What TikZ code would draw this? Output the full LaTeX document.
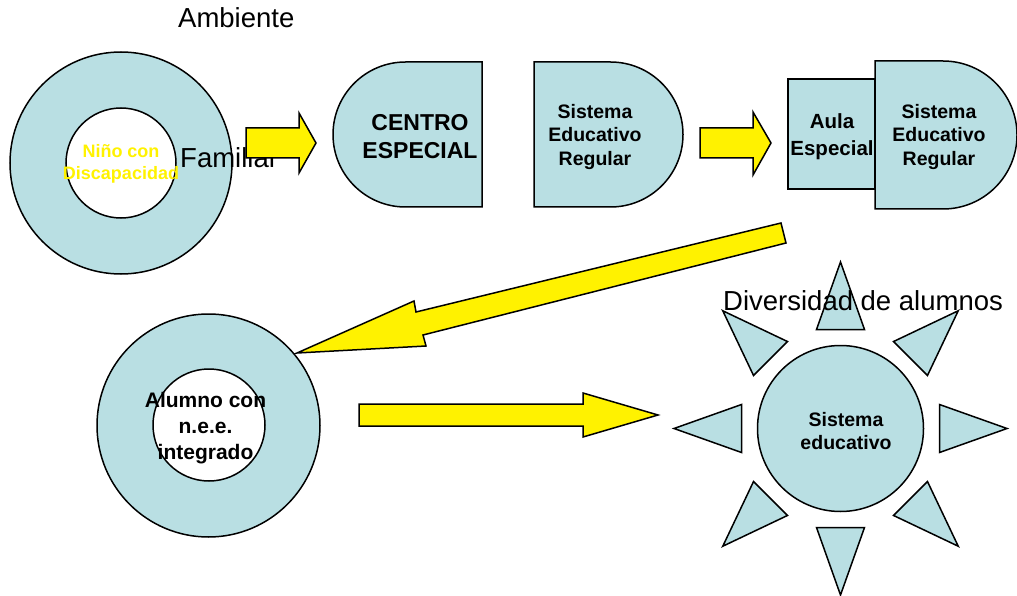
\documentclass[tikz,border=0pt]{standalone}
\usepackage{fontspec}
\setmainfont{Liberation Sans}
\definecolor{aqua}{RGB}{185,223,227}
\tikzset{>=latex}
\tikzset{
  shapefill/.style={fill=aqua, draw=black, line width=1.5pt},
  ringhole/.style={fill=white, draw=black, line width=1.5pt},
  blockarrow/.style={fill=yellow, draw=black, line width=1.5pt, line join=miter},
  boldtext/.style={font=\bfseries\fontsize{19.5}{23.5}\selectfont, align=center, inner sep=0pt},
  plaintext/.style={font=\fontsize{27.5}{31}\selectfont, inner sep=0pt, anchor=base west},
}

\begin{document}
\begin{tikzpicture}[x=1pt, y=-1pt]
   \useasboundingbox (0,0) rectangle (1017,596);

   % Ambiente familiar
   \node[plaintext] (ambiente) at (178,28) {Ambiente};
   \node[circle, shapefill, minimum size=222pt, inner sep=0pt] (familia) at (121,163) {};
   \node[circle, ringhole, minimum size=110pt, inner sep=0pt] (hueco) at (121,163) {};
   \node[plaintext] (familiar) at (180,168) {Familiar};
   \node[boldtext, text=yellow, font=\bfseries\fontsize{18}{22}\selectfont] (nino) at (121,164) {Niño con\\Discapacidad};

   % first arrow
   \filldraw[blockarrow] (246,128) -- (299,128) -- (299,113) -- (316,143) -- (299,173) -- (299,158) -- (246,158) -- cycle;

   % Centro especial
   \filldraw[shapefill] (482,62) -- (405.5,62) arc (270:90:72.5) -- (482,207) -- cycle;
   \node[boldtext, font=\bfseries\fontsize{23}{28}\selectfont] (centro) at (420,137) {CENTRO\\ESPECIAL};

   % Sistema educativo regular
   \filldraw[shapefill] (534,62) -- (610.5,62) arc (270:450:72.5) -- (534,207) -- cycle;
   \node[boldtext] (regular) at (595,137) {Sistema\\Educativo\\Regular};

   % second arrow
   \filldraw[blockarrow] (700,128) -- (753,128) -- (753,112) -- (771,143) -- (753,175) -- (753,158) -- (700,158) -- cycle;

   % Aula especial + sistema regular
   \filldraw[shapefill] (788,79) rectangle (875,189);
   \node[boldtext, font=\bfseries\fontsize{20.5}{27}\selectfont] (aula) at (832,137) {Aula\\Especial};
   \filldraw[shapefill] (875,61) -- (943,61) arc (270:450:74) -- (875,209) -- cycle;
   \node[boldtext] (regulardos) at (939,137) {Sistema\\Educativo\\Regular};

   % long arrow back
   \filldraw[blockarrow] (781,223) -- (786,243) -- (423,335) -- (426,346) -- (297,353) -- (414,301) -- (416,312) -- cycle;

   % Alumno integrado
   \node[circle, shapefill, minimum size=223pt, inner sep=0pt] (anillo) at (208.5,425.5) {};
   \node[circle, ringhole, minimum size=112pt, inner sep=0pt] (huecodos) at (209,425) {};
   \node[boldtext, font=\bfseries\fontsize{21}{26}\selectfont] (alumno) at (205.5,428) {Alumno con\\n.e.e.\\integrado};

   % third arrow
   \filldraw[blockarrow] (359,404) -- (583,404) -- (583,393) -- (658,415) -- (583,437) -- (583,426) -- (359,426) -- cycle;

   % Sol
   \node[circle, shapefill, minimum size=166pt, inner sep=0pt] (sol) at (840.5,428.5) {};
   \foreach \a in {0,45,...,315}{
       \filldraw[shapefill, shift={(sol.center)}, rotate=\a] (99,-24) -- (166.5,0) -- (99,24) -- cycle;
   }
   \node[boldtext] (sistema) at (846,431) {Sistema\\educativo};
   \node[plaintext] (diversidad) at (723,310) {Diversidad de alumnos};

\end{tikzpicture}
\end{document}
